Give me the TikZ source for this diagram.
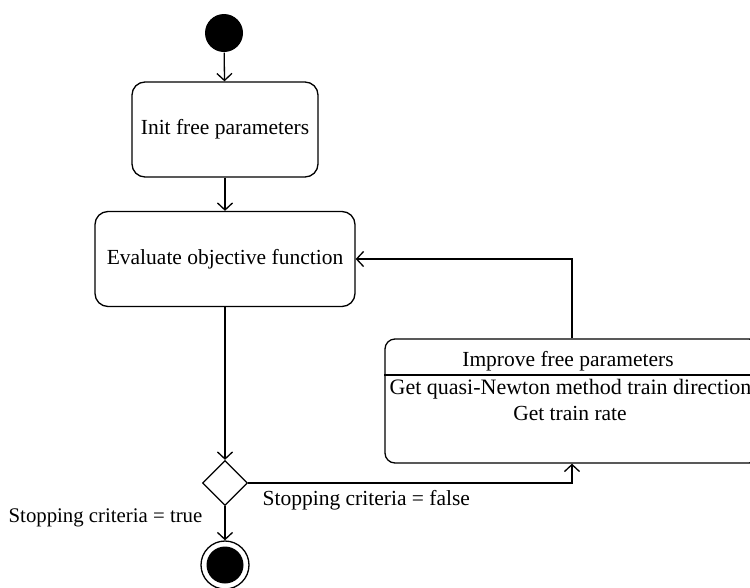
\documentclass[tikz,border=0pt]{standalone}
\usepackage{fontspec}
\setmainfont{Liberation Serif}
\usetikzlibrary{arrows.meta,shapes.geometric}
\tikzset{
  activity/.style={draw,rounded corners=13pt,inner sep=0pt},
  decision/.style={draw,diamond,minimum size=45pt,inner sep=0pt},
  flow/.style={-{Straight Barb[length=7pt,width=15pt]}},
  label/.style={inner sep=0pt}
}
\begin{document}
\begin{tikzpicture}[x=1pt,y=-1pt,line width=1.3pt,font=\fontsize{21.5}{26}\selectfont]
  \useasboundingbox (0,0) rectangle (750,587);
  \node[circle,fill=black,minimum size=38pt,inner sep=0pt] (start) at (224,33) {};
  \node[activity,minimum width=186pt,minimum height=95pt] (init) at (225,129.5) {Init free parameters};
  \node[activity,minimum width=260pt,minimum height=95pt] (eval) at (225,259) {Evaluate objective function};
  \node[activity,rounded corners=10pt,minimum width=374pt,minimum height=124pt] (improve) at (572,401) {};
  \node[label] (improvetitle) at (568,361) {Improve free parameters};
  \node[label,font=\fontsize{22}{26}\selectfont,anchor=west] (direction) at (389,389) {Get quasi-Newton method train direction};
  \node[label] (rate) at (570,413) {Get train rate};
  \node[decision] (stop) at (225,483) {};
  \node[circle,draw,minimum size=48pt,inner sep=0pt] (finish) at (225,565) {};
  \node[circle,fill=black,minimum size=37pt,inner sep=0pt] at (finish) {};
  \node[label,anchor=west] (false) at (262,500) {Stopping criteria = false};
  \node[label,anchor=east,font=\fontsize{20.8}{25}\selectfont] (true) at (203,518) {Stopping criteria = true};
  \draw (improve.west |- 0,375) -- (improve.east |- 0,375);
  \begin{scope}[flow]
    \draw (start) -- (init);
    \draw (init) -- (eval);
    \draw (eval) -- (stop);
    \draw (stop.east) -| (improve.south);
    \draw (improve.north) |- (eval.east);
    \draw (stop) -- (finish);
  \end{scope}
\end{tikzpicture}
\end{document}
